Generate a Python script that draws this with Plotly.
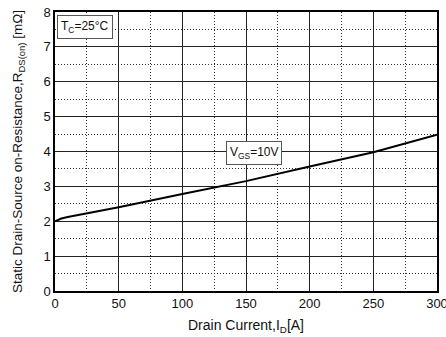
import plotly.graph_objects as go

drain_current = [0, 2, 5, 10, 25, 50, 100, 150, 200, 250, 300]
rds_on = [2.0, 2.04, 2.08, 2.12, 2.22, 2.4, 2.78, 3.15, 3.57, 3.98, 4.48]

font = "Liberation Sans, Arial, sans-serif"

fig = go.Figure()
fig.add_trace(go.Scatter(x=drain_current, y=rds_on, mode="lines",
                         line=dict(color="black", width=2), showlegend=False))

axis_common = dict(
    showline=True, linecolor="black", linewidth=1.5, mirror=True,
    showgrid=True, gridcolor="#222", gridwidth=1,
    zeroline=False, ticks="", tickfont=dict(family=font, size=13, color="#111"),
    automargin=False, ticklabeloverflow="allow",
)
fig.update_xaxes(range=[0, 300], dtick=50, tick0=0,
                 minor=dict(dtick=25, showgrid=True, gridcolor="#333", griddash="1px,2px", gridwidth=1),
                 title=dict(text="Drain Current,I<sub>D</sub>[A]", font=dict(family=font, size=14, color="#111"), standoff=10),
                 **axis_common)
fig.update_yaxes(range=[0, 8], dtick=1, tick0=0,
                 minor=dict(dtick=0.5, showgrid=True, gridcolor="#333", griddash="1px,2px", gridwidth=1),
                 title=dict(text="Static Drain-Source on-Resistance,R<sub>DS(on)</sub> [mΩ]", font=dict(family=font, size=13.5, color="#111"), standoff=18),
                 **axis_common)

fig.add_annotation(x=1.6, y=7.91, xref="x", yref="y", xanchor="left", yanchor="top",
                   text="T<sub>C</sub>=25°C", showarrow=False,
                   font=dict(family=font, size=12, color="#111"),
                   bgcolor="white", bordercolor="#555", borderwidth=1, borderpad=3)
fig.add_annotation(x=134, y=4.31, xref="x", yref="y", xanchor="left", yanchor="top",
                   text="V<sub>GS</sub>=10V", showarrow=False,
                   font=dict(family=font, size=12, color="#111"),
                   bgcolor="white", bordercolor="#555", borderwidth=1, borderpad=3)

fig.update_layout(width=446, height=337, margin=dict(l=55, r=9, t=12, b=46),
                  paper_bgcolor="white", plot_bgcolor="white",
                  font=dict(family=font))
fig.write_html("out.html")
